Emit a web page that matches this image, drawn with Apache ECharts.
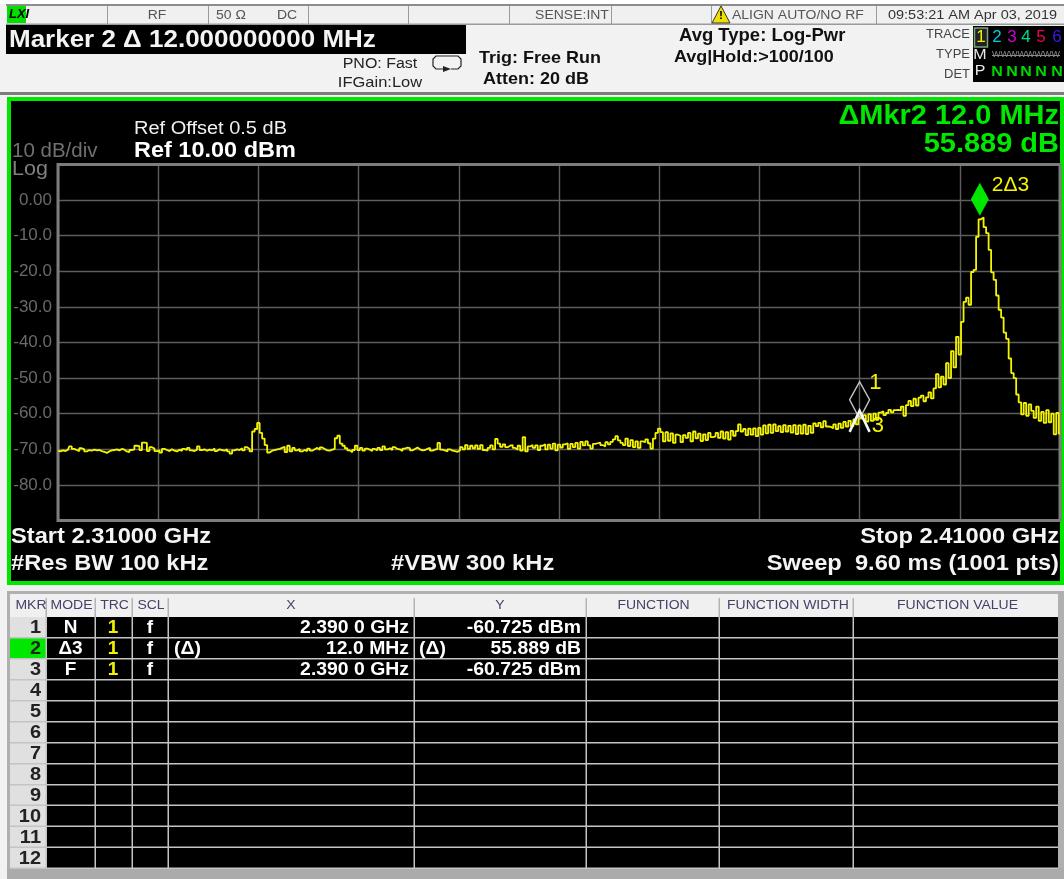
<!DOCTYPE html>
<html><head><meta charset="utf-8">
<style>html,body{margin:0;padding:0;background:#fff}#c{width:1064px;height:879px}</style>
<script src="https://cdn.jsdelivr.net/npm/echarts@6/dist/echarts.min.js"></script>
</head><body><div id="c"></div>
<script>
// Trace readings in dBm, one list per horizontal division, one reading every 0.25 MHz
const startMHz = 2310, stopMHz = 2410, stepMHz = 0.25;
const div1 = [-70.4,-70.6,-70.3,-70.5,-70.1,-69.2,-69.9,-70.2,-70.5,-69.7,-70.0,-70.6,-70.2,-70.4,-70.1,-70.3,-70.2,-70.5,-70.7,-71.0,-70.6,-70.3,-70.2,-70.0,-70.3,-69.9,-70.1,-70.6,-70.8,-70.2,-70.0,-69.0,-69.1,-70.2,-68.1,-68.2,-70.5,-69.4,-69.8,-70.5];
const div2 = [-70.3,-70.9,-69.9,-70.2,-70.5,-70.0,-70.4,-70.6,-70.1,-70.5,-69.9,-70.2,-69.6,-70.3,-70.5,-70.1,-69.2,-70.2,-70.0,-70.4,-70.1,-70.3,-69.8,-70.5,-70.0,-70.2,-70.4,-70.0,-70.6,-71.2,-70.3,-70.0,-70.2,-69.7,-70.3,-69.4,-69.9,-70.6,-65.0,-64.3];
const div3 = [-62.6,-65.4,-67.0,-68.8,-70.9,-70.4,-70.2,-70.0,-69.9,-69.6,-69.3,-70.8,-69.0,-70.6,-69.6,-70.3,-69.9,-70.6,-70.2,-70.5,-69.8,-70.4,-70.0,-69.6,-70.1,-69.5,-69.9,-70.3,-70.4,-70.1,-69.9,-66.9,-66.2,-68.4,-69.0,-69.7,-70.3,-70.8,-70.2,-69.0];
const div4 = [-70.2,-69.6,-70.4,-69.8,-70.1,-70.5,-69.9,-70.3,-69.6,-70.2,-69.2,-70.0,-69.7,-70.2,-69.4,-69.9,-70.0,-70.5,-69.8,-69.5,-69.7,-70.3,-69.9,-69.5,-70.0,-70.3,-70.2,-69.9,-69.6,-70.4,-70.1,-69.9,-68.2,-70.1,-70.3,-70.6,-70.0,-70.4,-70.5,-70.7];
const div5 = [-70.3,-69.4,-70.0,-68.8,-69.9,-69.0,-69.7,-68.9,-69.9,-68.8,-70.2,-70.4,-69.6,-68.9,-70.0,-67.1,-68.4,-69.3,-68.6,-69.4,-69.0,-68.8,-69.6,-70.1,-69.0,-70.4,-66.6,-70.6,-69.2,-68.8,-69.6,-68.9,-70.2,-69.0,-68.6,-70.0,-68.7,-69.8,-68.4,-70.3];
const div6 = [-68.7,-69.5,-68.6,-68.3,-69.9,-68.5,-69.4,-68.2,-69.8,-67.9,-68.9,-67.8,-68.9,-69.8,-68.5,-68.3,-68.1,-68.8,-69.2,-68.0,-68.6,-67.9,-67.2,-66.3,-67.5,-68.2,-68.8,-67.0,-69.1,-67.4,-69.4,-67.8,-69.6,-67.8,-68.0,-67.2,-68.3,-69.8,-67.0,-65.4];
const div7 = [-64.2,-65.2,-67.8,-65.2,-67.6,-65.5,-68.2,-65.9,-66.2,-68.0,-66.0,-66.8,-65.4,-67.8,-65.0,-66.9,-65.6,-67.7,-65.8,-67.4,-65.4,-66.6,-66.4,-65.4,-66.8,-65.0,-67.0,-65.2,-67.3,-64.8,-66.2,-64.9,-63.0,-65.0,-64.3,-66.0,-64.2,-65.9,-64.1,-66.3];
const div8 = [-64.0,-65.9,-63.3,-65.5,-63.1,-65.4,-63.0,-64.9,-63.5,-65.2,-63.2,-65.0,-63.4,-65.3,-63.2,-65.7,-63.3,-65.6,-63.1,-65.7,-63.4,-65.4,-62.7,-63.5,-62.6,-63.8,-62.1,-63.6,-63.7,-64.1,-63.0,-64.3,-62.8,-64.0,-62.3,-63.6,-62.0,-63.5,-61.6,-63.0];
const div9 = [-60.7,-61.4,-60.4,-62.2,-60.1,-62.0,-60.0,-61.7,-59.7,-59.3,-60.4,-59.8,-58.9,-59.6,-59.0,-58.9,-59.1,-58.0,-60.6,-57.6,-56.4,-57.9,-55.8,-57.7,-55.5,-54.9,-56.5,-55.4,-54.0,-55.7,-52.9,-48.9,-52.6,-49.6,-51.8,-45.8,-50.0,-42.4,-47.0,-38.4];
const div10 = [-43.4,-34.2,-28.6,-27.4,-29.4,-20.2,-19.6,-10.3,-5.4,-4.84,-7.6,-9.3,-14.0,-20.3,-22.4,-26.8,-30.8,-33.0,-37.2,-39.0,-44.5,-48.6,-50.0,-54.6,-56.8,-60.2,-57.0,-60.6,-57.4,-59.2,-61.2,-58.0,-62.0,-59.5,-62.6,-59.0,-62.4,-60.0,-65.8,-59.8,-65.6];

const yTickLabels = ['0.00','-10.0','-20.0','-30.0','-40.0','-50.0','-60.0','-70.0','-80.0'];
const marker1 = [2390, -60.725];
const marker2 = [2402, -4.836];
const marker3 = [2390, -60.725];
const tableColumns = ['MKR','MODE','TRC','SCL','X','Y','FUNCTION','FUNCTION WIDTH','FUNCTION VALUE'];
const rowMode = ['N','Δ3','F'];
const rowTrc = ['1','1','1'];
const rowScl = ['f','f','f'];
const rowXPrefix = ['','(Δ)',''];
const rowX = ['2.390 0 GHz','12.0 MHz','2.390 0 GHz'];
const rowYPrefix = ['','(Δ)',''];
const rowY = ['-60.725 dBm','55.889 dB','-60.725 dBm'];
const rowNumbers = ['1','2','3','4','5','6','7','8','9','10','11','12'];
const traceDigits = ['1','2','3','4','5','6'];
const traceColors = ['#f0f000','#00c8e0','#d000d8','#00d890','#f00050','#3818f0'];

const trace = [].concat(div1,div2,div3,div4,div5,div6,div7,div8,div9,div10)
  .map((v,i)=>[startMHz+i*stepMHz, v]);

const FONT = '"Liberation Sans", Arial, sans-serif';
const WIDEN = 1.06; // the reference's lettering is a little wider than it is tall
const g = [];
function rect(x,y,w,h,fill,extra){g.push(Object.assign({type:'rect',shape:{x,y,width:w,height:h},style:{fill},z:-5,silent:true},extra||{}));}
function txt(s,x,y,size,color,opt){opt=opt||{};g.push({type:'text',x,y,scaleX:WIDEN,z:10,silent:true,style:{text:s,fill:color,
  font:(opt.italic?'italic ':'')+(opt.bold?'bold ':'')+(size/WIDEN)+'px '+FONT,textAlign:opt.align||'left',textVerticalAlign:'middle'}});}

// page structure
rect(0,0,1064,879,'#f2f2f2');
rect(0,0,1064,4,'#ffffff');
rect(6,4,1058,2,'#8c8c8c');
rect(7,6,1057,18,'#f0f0f0');
rect(6,23.5,1058,1.5,'#9a9a9a');
[107,208,308,408,509,611,711,876].forEach(x=>rect(x,6,1,18,'#9a9a9a'));
rect(7,6,19,17,'#00e000');
txt('LXI',9,15,13,'#000',{bold:true,italic:true});
txt('RF',157,15,14,'#555',{align:'center'});
txt('50 Ω',231,15,14,'#555',{align:'center'});
txt('DC',287,15,14,'#555',{align:'center'});
txt('SENSE:INT',572,15,14,'#555',{align:'center'});
g.push({type:'polygon',shape:{points:[[721,6],[712,23],[730,23]]},style:{fill:'#f0e000',stroke:'#333',lineWidth:1},z:5,silent:true});
txt('!',721,16,12,'#000',{bold:true,align:'center'});
txt('ALIGN AUTO/NO RF',732,15,14,'#555');
txt('09:53:21 AM Apr 03, 2019',888,15,14.5,'#333');

rect(6,25,460,29,'#000000');
txt('Marker 2 Δ 12.000000000 MHz',9,40,26,'#f4f4f4',{bold:true});
txt('PNO: Fast',380,64,16,'#222',{align:'center'});
txt('IFGain:Low',380,83,16.5,'#222',{align:'center'});
g.push({type:'polyline',shape:{points:[[443,69],[436,69],[433,66],[433,59],[436,56],[458,56],[461,59],[461,66],[458,69],[451,69]]},style:{stroke:'#222',fill:null,lineWidth:1.2},z:5,silent:true});
g.push({type:'polygon',shape:{points:[[443,66],[443,72],[451,69]]},style:{fill:'#222'},z:5,silent:true});
txt('Trig: Free Run',479,58,18,'#111',{bold:true});
txt('Atten: 20 dB',483,79,18,'#111',{bold:true});
txt('Avg Type: Log-Pwr',679,36,18.5,'#111',{bold:true});
txt('Avg|Hold:>100/100',674,57,18,'#111',{bold:true});

txt('TRACE',970,35,13,'#444',{align:'right'});
txt('TYPE',970,55,13,'#444',{align:'right'});
txt('DET',970,75,13,'#444',{align:'right'});
rect(973,26,91,56,'#000');
rect(974.5,28,13,19,'#222',{style:{fill:'#222',stroke:'#7aa67a',lineWidth:1.5},z:-4});
const digitX = [981,997,1012,1026,1041,1057];
traceDigits.forEach((d,i)=>txt(d,digitX[i],38,17,traceColors[i],{align:'center'}));
txt('M',980,55,16,'#e8e8e8',{align:'center'});
txt('WWWWWWWW',992,55,9,'#8a8a8a',{});
rect(992,55,68,1,'#8a8a8a',{z:11});
txt('P',980,71,16,'#e8e8e8',{align:'center'});
[997,1012,1026,1041,1057].forEach(x=>txt('N',x,72,16,'#00d800',{align:'center',bold:true}));

rect(0,92,1064,3,'#7c7c7c');
rect(7,97,1057,488,'#00e800');
rect(11,101,1049,480,'#000000');

txt('Ref Offset 0.5 dB',134,129,20,'#f0f0f0');
txt('Ref 10.00 dBm',134,151,23.5,'#ffffff',{bold:true});
txt('10 dB/div',12,152,20.5,'#707070');
txt('Log',12,169,21.5,'#808080');
txt('ΔMkr2 12.0 MHz',1059,116,29,'#00e800',{bold:true,align:'right'});
txt('55.889 dB',1059,144,29,'#00e800',{bold:true,align:'right'});
txt('Start 2.31000 GHz',11,537,23.7,'#f4f4f4',{bold:true});
txt('#Res BW 100 kHz',11,564,23.7,'#f4f4f4',{bold:true});
txt('#VBW 300 kHz',391,564,23.7,'#f4f4f4',{bold:true});
txt('Stop 2.41000 GHz',1059,537,23.7,'#f4f4f4',{bold:true,align:'right'});
txt('Sweep  9.60 ms (1001 pts)',1059,564,23.7,'#f4f4f4',{bold:true,align:'right'});

// marker table
const colEdges = [10,46,95,132,168,414,586,719,853,1058];
rect(0,585,1064,6,'#f0f0f0');
rect(7,591,1057,288,'#b0b0b0');
rect(10,594,1048,23,'#f0f0f0');
rect(10,617,36,251,'#e0e0e0');
rect(46,617,1012,251,'#000000');
rect(10,638,36,21,'#00e800',{z:-3});
const headerShift = [3,1,1,1,0,0,1,2,2];
tableColumns.forEach((c,i)=>txt(c,(colEdges[i]+colEdges[i+1])/2+headerShift[i],605,14,'#46406a',{align:'center'}));
colEdges.slice(1,9).forEach(x=>{rect(x-0.5,598,1.5,19,'#b4b4b4',{z:-3});rect(x-0.5,617,1.5,251,'#c4c4c4',{z:-3});});
rowNumbers.forEach((n,i)=>{
  const top=617+i*21-(i>=8?0.5:0), mid=top+11;
  rect(10,top+20,1048,1.5,'#c4c4c4',{z:-3});
  txt(n,41,mid,20,'#222',{bold:true,align:'right'});
  if(i<3){
    txt(rowMode[i],70.5,mid,19,'#fff',{bold:true,align:'center'});
    txt(rowTrc[i],113,mid,19,'#f0f000',{bold:true,align:'center'});
    txt(rowScl[i],150,mid,19,'#fff',{bold:true,align:'center'});
    if(rowXPrefix[i])txt(rowXPrefix[i],174,mid,19.5,'#fff',{bold:true});
    txt(rowX[i],409,mid,19.4,'#fff',{bold:true,align:'right'});
    if(rowYPrefix[i])txt(rowYPrefix[i],419,mid,19.5,'#fff',{bold:true});
    txt(rowY[i],581,mid,19.4,'#fff',{bold:true,align:'right'});
  }
});
rect(7,868,1057,11,'#ababab');

const yellow = '#f4f400';
const chart = echarts.init(document.getElementById('c'),null,{renderer:'canvas',width:1064,height:879});
chart.setOption({
  animation:false,
  backgroundColor:'#f2f2f2',
  graphic:{elements:g},
  grid:{left:58,top:164.5,width:1002,height:356,show:true,backgroundColor:'transparent',borderColor:'#7c7c7c',borderWidth:3,z:1},
  xAxis:{type:'value',min:startMHz,max:stopMHz,interval:10,axisLabel:{show:false},axisTick:{show:false},axisLine:{show:false},
    splitLine:{show:true,lineStyle:{color:'#5e5e5e',width:1.4}}},
  yAxis:{type:'value',min:-90,max:10,interval:10,axisTick:{show:false},axisLine:{show:false},
    splitLine:{show:true,lineStyle:{color:'#5e5e5e',width:1.4}},
    axisLabel:{color:'#6a6a6a',fontFamily:FONT,fontSize:17,margin:6,align:'right',
      formatter:v=>{const i=Math.round(-v/10);return (i>=0&&i<yTickLabels.length)?yTickLabels[i]:'';}}},
  series:[
    {type:'line',data:trace,step:'middle',symbol:'none',z:5,clip:true,lineStyle:{color:yellow,width:1.8}},
    {type:'scatter',data:[marker1],z:6,symbol:'path://M10 0 L0 18 L10 37 L20 18 Z',symbolSize:[20,37],symbolOffset:[0,-16],
      itemStyle:{color:'transparent',borderColor:'#c4c4c4',borderWidth:1.5,opacity:1},
      label:{show:true,formatter:'1',color:yellow,fontFamily:FONT,fontSize:22,position:'right',offset:[-6,-17]}},
    {type:'scatter',data:[marker3],z:7,symbol:'path://M0 21 L10 0 L20 21',symbolSize:[20,21],symbolOffset:[0,5],
      itemStyle:{color:'transparent',borderColor:'#f6f6f6',borderWidth:2.6,opacity:1},
      label:{show:true,formatter:'3',color:yellow,fontFamily:FONT,fontSize:22,position:'right',offset:[-4,5]}},
    {type:'scatter',data:[marker2],z:8,symbol:'diamond',symbolSize:[18,33],symbolOffset:[0,-18],
      itemStyle:{color:'#00e800',opacity:1},
      label:{show:true,formatter:'2Δ3',color:yellow,fontFamily:FONT,fontSize:21,position:'right',offset:[-2,-14]}}
  ]
});
</script></body></html>
